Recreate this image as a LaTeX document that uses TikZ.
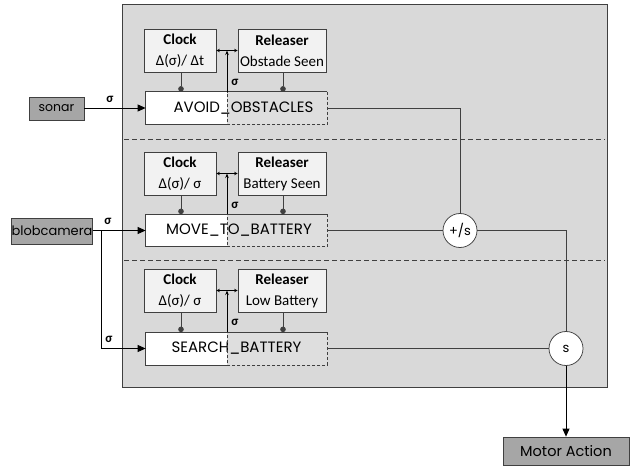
\documentclass[tikz,border=0pt]{standalone}
\usepackage{fontspec}
\setmainfont{Carlito}
\newfontfamily\gothic{Poppins}
\usetikzlibrary{arrows.meta}

\definecolor{panel}{RGB}{217,217,217}
\definecolor{boxfill}{RGB}{242,242,242}
\definecolor{halfgray}{RGB}{222,222,222}
\definecolor{sensor}{RGB}{166,166,166}
\definecolor{edge}{RGB}{64,64,64}

\tikzset{
  unitbox/.style={draw=edge, fill=boxfill, minimum width=#1, minimum height=43pt, inner sep=0pt, align=center, font=\fontsize{15}{21}\selectfont},
  behav/.style={fill=white, minimum width=181pt, minimum height=32pt, inner sep=0pt, font=\gothic\fontsize{15}{15}\selectfont,
    path picture={\fill[halfgray] ([xshift=81pt]path picture bounding box.north west) rectangle (path picture bounding box.south east);}},
  sensorbox/.style={draw=edge, fill=sensor, inner sep=0pt, minimum height=#1, font=\gothic\fontsize{12.5}{12.5}\selectfont},
  combine/.style={draw=edge, fill=white, circle, minimum size=34pt, inner sep=0pt, font=\gothic\fontsize{13}{13}\selectfont},
  sig/.style={font=\bfseries\fontsize{13}{13}\selectfont, inner sep=0pt},
  dot/.style={draw=edge, -{Circle[length=5.5pt]}},
  inarrow/.style={draw=black, thick, -{Triangle[length=8pt,width=7pt]}},
  both/.style={draw=black, {Stealth[length=3.5pt,width=3.5pt]}-{Stealth[length=3.5pt,width=3.5pt]}},
  up/.style={draw=black, -{Stealth[length=4.5pt,width=3.5pt]}}
}

\begin{document}
\begin{tikzpicture}[x=1pt, y=-1pt, line width=0.75pt]
\useasboundingbox (0,0) rectangle (638,468);
\filldraw[fill=panel, draw=edge] (122,4) rectangle (607,387);
\draw[edge, dashed, dash pattern=on 5pt off 3pt] (124,139) -- (605,139);
\draw[edge, dashed, dash pattern=on 5pt off 3pt] (124,260) -- (605,260);

% avoid obstacles
\node[unitbox=72pt] (avoidclock) at (180,50.5) {\textbf{Clock}\\Δ(σ)/ Δt};
\node[unitbox=88pt] (avoidrel) at (282,50.5) {\textbf{Releaser}\\Obstade Seen};
\node[behav] (avoid) at (236.5,108) {\hspace{14pt}AVOID\_OBSTACLES};
\coordinate (avoidcut) at (227,108);
\draw[edge] (avoidcut |- avoid.south) -- (avoid.south west) -- (avoid.north west) -- (avoid.north east);
\draw[edge, dashed, dash pattern=on 3pt off 2pt] (avoid.north east) -- (avoid.south east) -- (avoidcut |- avoid.south) -- (avoidcut |- avoid.north);
\draw[dot] (avoidclock.south -| 181,0) -- (avoid.north -| 181,0);
\draw[dot] (avoidrel.south -| 283,0) -- (avoid.north -| 283,0);
\draw[both] (avoidclock.east) -- (avoidrel.west);
\draw[up] (avoidcut |- avoid.north) -- (avoidcut |- avoidclock.east);
\node[sig] at (235,82) {σ};

% move to battery
\node[unitbox=72pt] (moveclock) at (180,173.5) {\textbf{Clock}\\Δ(σ)/ σ};
\node[unitbox=88pt] (moverel) at (282,173.5) {\textbf{Releaser}\\Battery Seen};
\node[behav] (move) at (236.5,230.5) {\hspace{5pt}MOVE\_TO\_BATTERY};
\coordinate (movecut) at (227,230.5);
\draw[edge] (movecut |- move.south) -- (move.south west) -- (move.north west) -- (move.north east);
\draw[edge, dashed, dash pattern=on 3pt off 2pt] (move.north east) -- (move.south east) -- (movecut |- move.south) -- (movecut |- move.north);
\draw[dot] (moveclock.south -| 181,0) -- (move.north -| 181,0);
\draw[dot] (moverel.south -| 283,0) -- (move.north -| 283,0);
\draw[both] (moveclock.east) -- (moverel.west);
\draw[up] (movecut |- move.north) -- (movecut |- moveclock.east);
\node[sig] at (235,205) {σ};

% search battery
\node[unitbox=72pt] (searchclock) at (180,290.5) {\textbf{Clock}\\Δ(σ)/ σ};
\node[unitbox=88pt] (searchrel) at (282,290.5) {\textbf{Releaser}\\Low Battery};
\node[behav] (search) at (236.5,348.5) {SEARCH\_BATTERY};
\coordinate (searchcut) at (227,348.5);
\draw[edge] (searchcut |- search.south) -- (search.south west) -- (search.north west) -- (search.north east);
\draw[edge, dashed, dash pattern=on 3pt off 2pt] (search.north east) -- (search.south east) -- (searchcut |- search.south) -- (searchcut |- search.north);
\draw[dot] (searchclock.south -| 181,0) -- (search.north -| 181,0);
\draw[dot] (searchrel.south -| 283,0) -- (search.north -| 283,0);
\draw[both] (searchclock.east) -- (searchrel.west);
\draw[up] (searchcut |- search.north) -- (searchcut |- searchclock.east);
\node[sig] at (235,322) {σ};

% sensors and output
\node[sensorbox=23pt, minimum width=55pt] (sonar) at (56.5,108.5) {sonar};
\node[sensorbox=26pt, minimum width=78pt, font=\gothic\fontsize{13}{13}\selectfont] (camera) at (52,231) {blobcamera};
\coordinate (split) at (101,231);
\node[combine] (plus) at (460,230.5) {+/s};
\node[combine] (sup) at (566,348.5) {s};
\node[sensorbox=28pt, minimum width=126pt, font=\gothic\fontsize{14.5}{14.5}\selectfont] (motor) at (566,451) {Motor Action};

\draw[inarrow] (sonar.east |- avoid.west) -- (avoid.west);
\node[sig] at (110,99) {σ};
\draw[inarrow] (camera.east |- move.west) -- (move.west);
\node[sig] at (108,221) {σ};
\draw[inarrow] (split) |- (search.west);
\node[sig] at (109,339) {σ};

\draw[edge] (avoid.east) -| (plus.north);
\draw[edge] (move.east) -- (plus.west);
\draw[edge] (plus.east) -| (sup.north);
\draw[edge] (search.east) -- (sup.west);
\draw[inarrow] (sup.south) -- (motor.north);
\end{tikzpicture}
\end{document}
